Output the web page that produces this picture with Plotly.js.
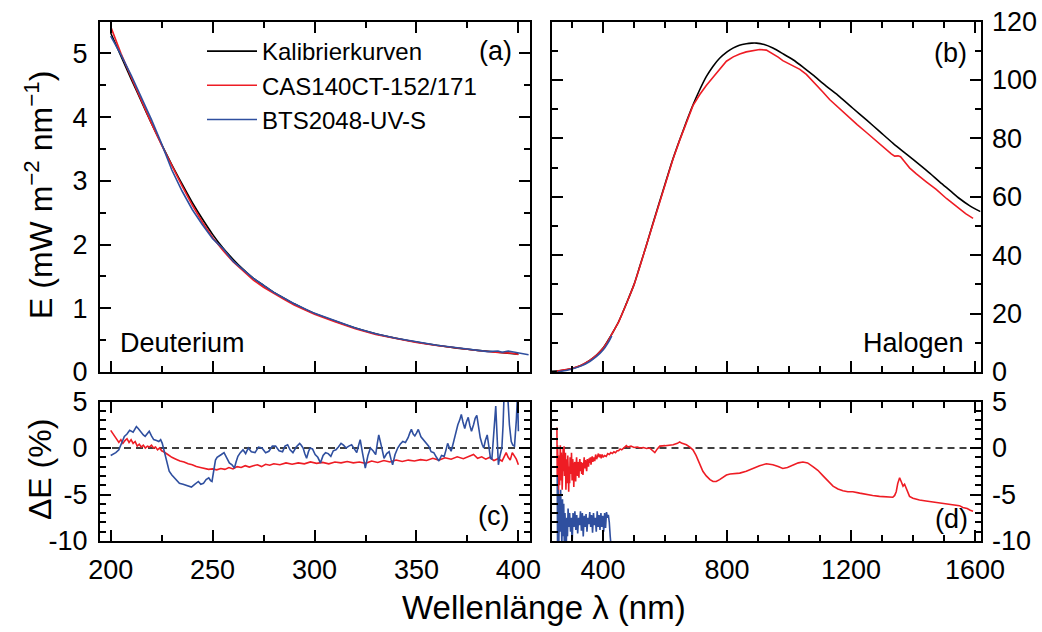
<!DOCTYPE html>
<html>
<head>
<meta charset="utf-8">
<script src="https://cdn.plot.ly/plotly-3.0.1.min.js"></script>
<style>html,body{margin:0;padding:0;background:#fff;}#chart{width:1042px;height:632px;}</style>
</head>
<body>
<div id="chart"></div>
<script>
// ---------- Panel (a): Deuterium irradiance (mW m^-2 nm^-1) ----------
const deutWl = [200,205,210,215,220,225,230,235,240,245,250,255,260,265,270,275,280,285,290,295,300,310,320,330,340,350,360,370,380,390,400];
const deutCal = [5.32,4.96,4.60,4.25,3.90,3.57,3.25,2.95,2.66,2.40,2.16,1.95,1.77,1.61,1.47,1.36,1.25,1.16,1.07,0.99,0.92,0.80,0.69,0.60,0.53,0.47,0.42,0.375,0.34,0.31,0.28];
const deutCasWl = [200,205,210,215,220,225,230,235,240,245,250,255,260,265,270,275,280,285,290,295,300,310,320,330,340,350,360,370,380,390,393,395,397,400];
const deutCas = [5.42,5.00,4.63,4.26,3.90,3.56,3.23,2.92,2.62,2.35,2.11,1.91,1.73,1.58,1.44,1.33,1.23,1.14,1.05,0.975,0.905,0.79,0.68,0.59,0.523,0.464,0.415,0.371,0.337,0.306,0.30,0.29,0.295,0.275];
const deutBtsWl = [200,205,210,213,215,220,225,230,235,240,245,250,252,255,260,265,270,280,290,300,310,320,330,340,350,360,370,380,385,390,392,395,398,400,402,405];
const deutBts = [5.27,4.98,4.66,4.45,4.33,3.96,3.58,3.17,2.84,2.55,2.31,2.09,2.03,1.94,1.74,1.61,1.47,1.25,1.07,0.92,0.80,0.69,0.60,0.53,0.475,0.42,0.38,0.345,0.32,0.33,0.31,0.33,0.31,0.30,0.29,0.27];

// ---------- Panel (b): Halogen irradiance ----------
const halWl = [234,260,300,330,357,380,400,415,430,450,475,500,518,540,561,580,604,625,647,670,690,710,733,755,776,800,819,840,862,880,895,920,948,980,1013,1045,1077,1120,1163,1206,1250,1293,1336,1380,1422,1455,1486,1520,1550,1585,1618];
const halCal = [0.2,0.4,1.2,2.3,4.0,5.9,8.2,10.6,13.3,17.2,23.4,30.0,36.0,43.5,50.9,57.5,65.7,72.8,79.4,86.0,91.4,96.2,101.1,104.7,107.4,109.6,110.9,111.9,112.4,112.6,112.6,112.1,110.9,109.0,106.9,104.4,101.7,97.9,94.3,90.3,86.3,82.3,78.3,74.5,70.9,68.0,65.1,62.1,59.4,56.8,54.9];
const halCasWl = [251,270,300,330,357,380,400,415,430,450,475,500,518,540,561,580,604,625,647,670,690,712,733,755,776,798,820,841,862,884,905,927,948,965,980,1000,1013,1035,1056,1070,1088,1110,1131,1160,1185,1220,1250,1285,1314,1330,1341,1352,1360,1368,1379,1389,1410,1443,1475,1508,1540,1570,1594];
const halCas = [0.3,0.6,1.2,2.3,4.0,5.9,8.1,10.5,13.2,17.1,23.3,29.9,35.9,43.4,50.8,57.4,65.6,72.7,79.3,85.9,91.2,95.0,98.1,100.9,103.7,106.4,107.9,108.9,109.6,110.1,110.4,110.2,108.9,107.8,106.6,105.5,105.0,103.6,101.9,100.4,98.5,95.8,93.3,90.4,88.1,84.7,82.0,78.7,76.1,74.7,73.9,74.0,73.7,72.5,71.2,69.9,67.9,65.1,62.5,59.4,56.8,54.2,52.6];
const halBtsWl = [254,280,300,330,357,380,400,415,428];
const halBts = [0.1,0.5,1.0,2.1,3.6,5.4,7.5,9.8,12.4];

// ---------- Panel (c): deviation, Deuterium (%) ----------
const devDeutCasWl = [200,201,202,203,204,205,206,207,208,209,210,211,212,213,214,215,216,217,218,219,220,221,222,223,224,225,226,228,230,232,234,236,238,240,242,244,246,248,250,252,254,256,258,260,262,264,266,268,270,272,274,276,278,280,283,286,289,292,295,298,301,304,307,310,313,316,319,322,325,328,331,334,337,340,343,346,349,352,355,358,361,364,367,370,373,376,378,380,382,384,386,388,390,392,393,394,395,396,397,398,399,400];
const devDeutCas = [1.9,1.6,1.2,1.0,0.6,0.9,0.5,0.8,1.0,0.6,0.9,0.5,0.7,0.2,0.4,0.1,0.3,0.0,0.2,0.1,0.3,0.0,0.1,-0.2,0.0,-0.3,-0.4,-0.7,-1.0,-1.2,-1.4,-1.5,-1.7,-1.8,-2.0,-2.1,-2.2,-2.3,-2.25,-2.35,-2.2,-2.3,-2.1,-2.25,-2.0,-2.1,-1.9,-2.05,-1.9,-1.8,-2.0,-1.75,-1.85,-1.7,-1.8,-1.6,-1.75,-1.6,-1.7,-1.5,-1.65,-1.55,-1.7,-1.5,-1.6,-1.45,-1.6,-1.5,-1.65,-1.4,-1.55,-1.35,-1.5,-1.3,-1.45,-1.3,-1.4,-1.25,-1.35,-1.1,-1.3,-1.05,-1.2,-0.95,-1.15,-0.9,-0.7,-1.1,-0.95,-1.2,-1.0,-1.35,-1.15,-1.4,-0.9,-0.5,-1.0,-1.3,-0.5,-0.9,-1.2,-1.8];
const devDeutBtsWl = [200,201,202.5,204,205,206.7,208,209.3,211,212.6,213.5,214.5,216,216.9,218,218.9,220,221.1,222.5,223.6,224.5,225.3,226.2,227,228,228.7,230,231.2,232.5,233.7,235.5,237.1,238.5,239.6,241.2,243,244.2,245.5,246.8,248.1,249,249.7,250.5,251.4,252.2,253.1,254.3,255.6,256.9,258.2,259.5,260.7,261.5,262.4,263.6,264.9,266.2,267.5,269,270.8,272.5,274.2,276,277.6,279.3,280.9,282.6,284.3,285.5,286.8,288,289.4,291,292.7,293.5,294.4,295.2,296.1,297,297.8,299,300.3,301.6,302.9,304.2,305.4,306.7,308,309.2,310.5,311.7,313,314.2,315.5,316.8,318.2,319.5,320.7,321.5,322.4,323.5,324.9,326.2,327.4,328.7,330,330.8,331.5,332.8,334.1,335.4,336.6,337.5,338.3,339.5,340.8,342,343.3,344.6,345.9,346.7,347.5,348.4,349.2,350,350.9,352.2,353.4,354.7,356,357.2,358.5,359.8,361,362.3,363.6,364.5,365.3,366.2,367,367.8,368.6,369.5,370.3,371.2,372,372.8,373.7,374.5,375.4,376.2,377,378,378.8,379.6,380.5,381.3,382.2,383,383.8,384.7,385.5,386.3,387,387.7,388.3,388.9,389.5,390.2,391,391.9,392.5,393.1,393.8,394.8,395.6,396.5,397.3,398.1,399,399.6,400];
const devDeutBts = [-0.8,-0.7,-0.5,-0.2,0.3,1.25,1.5,1.9,1.7,2.3,2.1,1.8,1.4,1.25,1.6,1.8,1.3,0.9,0.8,0.7,0.9,0.5,-0.3,-1.1,-1.9,-2.5,-2.9,-3.2,-3.5,-3.8,-3.9,-4.0,-4.1,-4.2,-3.9,-3.6,-3.9,-3.8,-3.4,-3.2,-3.5,-3.6,-2.5,-1.3,-1.0,-0.9,-0.7,-0.5,-1.0,-1.6,-1.8,-2.15,-1.5,-0.9,-0.5,-0.2,-0.6,0.0,-0.4,-0.5,0.1,0.0,-0.5,-0.35,0.2,0.2,-0.3,-0.4,0.2,0.35,-0.2,-0.5,0.1,0.5,0.3,0.0,-0.6,-1.1,-0.4,0.0,-0.1,-0.7,-1.0,-1.6,-0.8,-0.5,-0.6,-0.9,-0.3,-0.2,0.1,0.5,0.3,0.0,0.2,0.35,-0.1,-0.5,0.2,0.9,-0.5,-2.15,-0.8,0.0,-0.3,-0.7,0.5,1.4,0.2,-1.1,-0.6,-0.4,-1.2,-1.8,-0.7,0.0,0.4,0.7,0.6,1.1,1.6,2.0,1.5,1.3,1.6,2.0,1.2,0.9,0.6,0.2,-0.4,-0.5,-1.0,-1.4,-0.8,-0.9,-0.2,0.5,0.0,-0.35,0.3,1.1,1.8,2.5,3.0,3.6,2.8,2.1,2.8,3.3,2.4,1.8,2.5,3.2,3.5,1.9,1.1,0.4,0.0,0.8,1.4,0.2,-1.1,-1.2,1.0,3.0,4.5,1.5,-1.8,-0.8,0.0,2.5,6.5,6.0,5.5,2.5,0.7,0.3,0.2,3.0,6.0,1.8];

// ---------- Panel (d): deviation, Halogen (%) ----------
const devHalCasWl = [251,252,253,254.5,256,257,258,259.5,261,262,263.5,265,266.5,268,269.5,271,272.5,274,275.5,277,278.5,280,281.5,283,284.5,286,287.5,289,290.5,292,293.5,295,296.5,298,300,302,304,305.5,307,308.5,310,311.5,313,314.5,316,317.5,319,320.5,322,323.5,325,327,329,331,333,335,337,339,341,343,345,347,349,351,353,355,357,359,361,363,365,367,370,373,376,379,382,385,388,391,394,397,400,405,410,415,420,425,430,435,440,445,450,455,460,465,470,475,480,490,500,510,520,530,540,550,560,567,575,583,600,615,626,640,647,655,669,680,690,700,712,722,733,745,755,765,776,787,798,810,820,841,862,884,905,927,948,965,980,995,1013,1030,1045,1060,1077,1093,1110,1126,1142,1158,1174,1190,1206,1228,1249,1270,1292,1313,1335,1341,1346,1351,1357,1362,1368,1373,1378,1384,1389,1400,1421,1442,1464,1485,1507,1530,1540,1550,1561,1575,1585,1594];
const devHalCas = [2.2,-3.0,0.3,-2.0,-6.5,-2.0,-0.8,-4.0,-1.5,0.3,-3.5,-0.5,-2.0,-4.5,-1.0,0.0,-2.5,0.2,-3.0,-1.2,-0.5,-4.5,-2.0,-1.2,-3.8,-0.8,-2.5,-4.7,-2.0,-3.8,-1.0,-2.2,-2.8,-0.5,-3.5,-1.2,-2.5,-4.2,-2.0,-1.5,-2.8,-3.6,-1.8,-1.0,-2.2,-3.0,-1.5,-2.6,-3.2,-1.6,-1.2,-2.5,-1.5,-2.8,-1.6,-2.9,-1.3,-1.0,-2.2,-1.3,-2.0,-2.5,-1.2,-1.6,-2.0,-1.1,-1.6,-1.0,-1.8,-1.2,-0.9,-1.5,-1.0,-1.4,-0.7,-1.2,-0.8,-0.6,-1.0,-0.7,-1.1,-0.7,-1.0,-0.8,-0.9,-0.6,-0.7,-0.5,-0.6,-0.4,-0.5,-0.3,-0.3,-0.1,-0.2,0.0,0.1,0.25,0.1,0.2,0.05,0.1,0.0,0.05,-0.05,0.0,-0.3,-0.5,-0.1,0.2,0.25,0.3,0.35,0.5,0.65,0.5,0.35,0.1,-0.2,-0.8,-1.8,-2.5,-3.0,-3.4,-3.6,-3.6,-3.4,-3.1,-2.9,-2.8,-2.75,-2.7,-2.5,-2.2,-1.9,-1.7,-1.8,-2.0,-2.2,-2.1,-1.8,-1.6,-1.5,-1.6,-2.0,-2.4,-3.0,-3.6,-4.1,-4.4,-4.6,-4.7,-4.7,-4.85,-5.0,-5.1,-5.2,-5.25,-5.3,-5.1,-4.7,-3.8,-3.2,-3.6,-4.1,-3.9,-4.3,-4.8,-5.2,-5.4,-5.6,-5.7,-5.8,-5.9,-6.0,-6.05,-6.1,-6.2,-6.4,-6.5,-6.7,-6.8];
const devHalBtsWl = [252,253,255,257,259,261,263,265,267,269,271,273,275,277,279,281,283,285,287,290,292,295,298,300,303,306,309,312,315,318,321,324,327,330,333,336,339,342,345,348,351,354,357,360,363,366,369,372,375,378,381,384,387,390,393,396,399,402,405,408,411,414,417,420,423,427];
const devHalBts = [-3.0,-10.5,-4.5,-11,-5.0,-9.0,-4.5,-8.0,-10.5,-5.5,-9.5,-6.0,-11,-7.0,-9.0,-11,-7.5,-9.5,-6.5,-8.5,-7.0,-9.0,-7.5,-10.5,-7.0,-8.5,-6.8,-8.8,-7.2,-9.2,-7.5,-8.3,-6.8,-8.9,-7.0,-9.5,-7.3,-8.5,-7.1,-9.0,-7.5,-8.2,-6.9,-8.5,-7.2,-9.1,-7.0,-8.3,-7.5,-9.0,-6.8,-8.5,-7.2,-8.8,-7.0,-8.5,-7.3,-9.0,-7.0,-8.6,-6.9,-7.5,-7.2,-8.0,-9.5,-11];

// ---------- Labels ----------
const seriesNames = ['Kalibrierkurven','CAS140CT-152/171','BTS2048-UV-S'];
const devTickVals = [-10,-5,0,5];
const devTickText = ['-10','-5','0','5'];

const cBlack = '#000000', cRed = '#ee1c24', cBlue = '#2f4f9f';
const lw = 1.6;

const traces = [
  {x:deutWl, y:deutCal, xaxis:'x', yaxis:'y', mode:'lines', name:seriesNames[0], line:{color:cBlack,width:lw,shape:'spline',smoothing:0.6}, legendgroup:'k'},
  {x:deutCasWl, y:deutCas, xaxis:'x', yaxis:'y', mode:'lines', name:seriesNames[1], line:{color:cRed,width:lw}, legendgroup:'r'},
  {x:deutBtsWl, y:deutBts, xaxis:'x', yaxis:'y', mode:'lines', name:seriesNames[2], line:{color:cBlue,width:lw}, legendgroup:'b'},
  {x:halWl, y:halCal, xaxis:'x2', yaxis:'y2', mode:'lines', name:seriesNames[0], line:{color:cBlack,width:lw,shape:'spline',smoothing:0.8}, showlegend:false},
  {x:halCasWl, y:halCas, xaxis:'x2', yaxis:'y2', mode:'lines', name:seriesNames[1], line:{color:cRed,width:lw}, showlegend:false},
  {x:halBtsWl, y:halBts, xaxis:'x2', yaxis:'y2', mode:'lines', name:seriesNames[2], line:{color:cBlue,width:lw,shape:'spline'}, showlegend:false},
  {x:devDeutCasWl, y:devDeutCas, xaxis:'x3', yaxis:'y3', mode:'lines', name:seriesNames[1], line:{color:cRed,width:lw}, showlegend:false},
  {x:devDeutBtsWl, y:devDeutBts, xaxis:'x3', yaxis:'y3', mode:'lines', name:seriesNames[2], line:{color:cBlue,width:lw}, showlegend:false},
  {x:devHalCasWl, y:devHalCas, xaxis:'x4', yaxis:'y4', mode:'lines', name:seriesNames[1], line:{color:cRed,width:lw}, showlegend:false},
  {x:devHalBtsWl, y:devHalBts, xaxis:'x4', yaxis:'y4', mode:'lines', name:seriesNames[2], line:{color:cBlue,width:lw}, showlegend:false}
];

const W = 1042, H = 632;
const fx = p => p / W, fy = p => 1 - p / H;
const leftDom = [fx(100), fx(530)], rightDom = [fx(551.5), fx(980.5)];
const topDom = [fy(372), fy(21.5)], botDom = [fy(541), fy(401.5)];

const common = {
  showline:true, linewidth:2, linecolor:'#000', mirror:'allticks',
  ticks:'inside', ticklen:11, tickwidth:2, tickcolor:'#000',
  showgrid:false, zeroline:false,
  tickfont:{size:27, color:'#000'},
  minor:{ticks:'inside', ticklen:6, tickwidth:2, tickcolor:'#000', showgrid:false}
};
function ax(o){ const r = Object.assign({}, common, o); r.minor = Object.assign({}, common.minor, o.minor||{}); return r; }

const layout = {
  width:W, height:H,
  margin:{l:0, r:0, t:0, b:0},
  paper_bgcolor:'#fff', plot_bgcolor:'#fff',
  font:{family:'"Liberation Sans", Arial, sans-serif', size:24, color:'#000'},
  showlegend:true,
  legend:{x:fx(202), y:fy(29), xanchor:'left', yanchor:'top', bgcolor:'rgba(0,0,0,0)', borderwidth:0, font:{size:24}, itemwidth:50, tracegroupgap:0},
  xaxis: ax({domain:leftDom, range:[194.75,405.7], anchor:'y', tick0:200, dtick:50, showticklabels:false, minor:{dtick:25}}),
  yaxis: ax({domain:topDom, range:[0,5.5], anchor:'x', tick0:0, dtick:1, ticklabelstandoff:5, minor:{dtick:0.5}}),
  xaxis2: ax({domain:rightDom, range:[233.5,1618], anchor:'y2', tick0:0, dtick:400, showticklabels:false, minor:{dtick:100}}),
  yaxis2: ax({domain:topDom, range:[0,120], anchor:'x2', side:'right', tick0:0, dtick:20, ticklabelstandoff:4, minor:{dtick:10}}),
  xaxis3: ax({domain:leftDom, range:[194.75,405.7], anchor:'y3', tick0:200, dtick:50, ticklabelstandoff:4, minor:{dtick:25}}),
  yaxis3: ax({domain:botDom, range:[-10,5], anchor:'x3', tickmode:'array', tickvals:devTickVals, ticktext:devTickText, ticklabelstandoff:5, minor:{tickmode:'linear', tick0:0, dtick:1}}),
  xaxis4: ax({domain:rightDom, range:[233.5,1618], anchor:'y4', tick0:0, dtick:400, ticklabelstandoff:4, minor:{dtick:100}}),
  yaxis4: ax({domain:botDom, range:[-10,5], anchor:'x4', side:'right', tickmode:'array', tickvals:devTickVals, ticktext:devTickText, ticklabelstandoff:4, minor:{tickmode:'linear', tick0:0, dtick:1}}),
  shapes:[
    {type:'line', xref:'x3 domain', x0:0, x1:1, yref:'y3', y0:0, y1:0, line:{color:'#000', width:1.5, dash:'7px,5px'}, layer:'below'},
    {type:'line', xref:'x4 domain', x0:0, x1:1, yref:'y4', y0:0, y1:0, line:{color:'#000', width:1.5, dash:'7px,5px'}, layer:'below'}
  ],
  annotations:[
    {text:'(a)', xref:'paper', yref:'paper', x:fx(495), y:fy(51), showarrow:false, font:{size:27}, xanchor:'center', yanchor:'middle'},
    {text:'(b)', xref:'paper', yref:'paper', x:fx(950), y:fy(53), showarrow:false, font:{size:27}, xanchor:'center', yanchor:'middle'},
    {text:'(c)', xref:'paper', yref:'paper', x:fx(493), y:fy(516), showarrow:false, font:{size:27}, xanchor:'center', yanchor:'middle'},
    {text:'(d)', xref:'paper', yref:'paper', x:fx(951), y:fy(519), showarrow:false, font:{size:27}, xanchor:'center', yanchor:'middle'},
    {text:'Deuterium', xref:'paper', yref:'paper', x:fx(182), y:fy(343), showarrow:false, font:{size:27}, xanchor:'center', yanchor:'middle'},
    {text:'Halogen', xref:'paper', yref:'paper', x:fx(913), y:fy(343), showarrow:false, font:{size:27}, xanchor:'center', yanchor:'middle'},
    {text:'E (mW m<sup>\u22122</sup> nm<sup>\u22121</sup>)', xref:'paper', yref:'paper', x:fx(39), y:fy(195), showarrow:false, textangle:-90, font:{size:32}, xanchor:'center', yanchor:'middle'},
    {text:'\u0394E (%)', xref:'paper', yref:'paper', x:fx(40), y:fy(470), showarrow:false, textangle:-90, font:{size:32}, xanchor:'center', yanchor:'middle'},
    {text:'Wellenlänge \u03bb (nm)', xref:'paper', yref:'paper', x:fx(544), y:fy(607), showarrow:false, font:{size:33}, xanchor:'center', yanchor:'middle'}
  ]
};

Plotly.newPlot('chart', traces, layout, {staticPlot:true, displayModeBar:false});
</script>
</body>
</html>
